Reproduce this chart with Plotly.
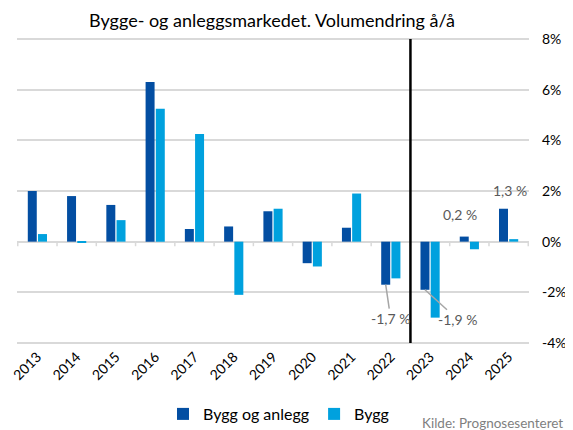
import plotly.graph_objects as go

years = ["2013", "2014", "2015", "2016", "2017", "2018", "2019",
         "2020", "2021", "2022", "2023", "2024", "2025"]
bygg_og_anlegg = [2.0, 1.8, 1.45, 6.3, 0.5, 0.6, 1.2, -0.85, 0.55, -1.7, -1.9, 0.2, 1.3]
bygg = [0.3, -0.05, 0.85, 5.25, 4.25, -2.1, 1.3, -0.98, 1.9, -1.45, -3.0, -0.3, 0.1]
y_ticks = [-4, -2, 0, 2, 4, 6, 8]
y_tick_labels = ["-4%", "-2%", "0%", "2%", "4%", "6%", "8%"]

DARK = "#034ea2"
LIGHT = "#00a1de"
FONT = "Lato"

# page offset of the figure (default body margin)
OFF = 8
PT, PB = 37, 345          # plot top / bottom in page px
PL, PR = 17, 529          # plot left / right in page px


def px_y(py):
    return (PB - py) / (PB - PT)


def px_x(px):
    return (px - PL) / (PR - PL)


fig = go.Figure()
fig.add_trace(go.Bar(x=years, y=bygg_og_anlegg, name="Bygg og anlegg",
                     marker=dict(color=DARK, line=dict(width=0))))
fig.add_trace(go.Bar(x=years, y=bygg, name="Bygg",
                     marker=dict(color=LIGHT, line=dict(width=0))))

# category-boundary tick marks on the zero line
shapes = []
for i in range(len(years) + 1):
    shapes.append(dict(type="line", xref="x", yref="y", x0=i - 0.5, x1=i - 0.5,
                       y0=0, y1=-0.18, line=dict(color="#d9d9d9", width=1.5)))
# forecast divider
shapes.append(dict(type="line", xref="x", yref="y", x0=9.5, x1=9.5,
                   y0=-4, y1=8, line=dict(color="black", width=2.5)))

ann_font = dict(family=FONT, size=14, color="#595959")
annotations = [
    dict(x=11 - 0.13, y=bygg_og_anlegg[11], text="0,2 %", showarrow=False,
         yanchor="bottom", yshift=12, xshift=-4, font=ann_font),
    dict(x=12 - 0.13, y=bygg_og_anlegg[12], text="1,3 %", showarrow=False,
         yanchor="bottom", yshift=8, xshift=6, font=ann_font),
    dict(x=9 - 0.13, y=bygg_og_anlegg[9], text="-1,7 %", showarrow=True,
         arrowhead=0, arrowwidth=1.5, arrowcolor="#a6a6a6", ax=5, ay=34,
         font=ann_font),
    dict(x=10 - 0.13, y=bygg_og_anlegg[10], text="-1,9 %", showarrow=True,
         arrowhead=0, arrowwidth=1.5, arrowcolor="#a6a6a6", ax=33, ay=30,
         font=ann_font),
    dict(xref="paper", yref="paper", x=px_x(420), y=px_y(423),
         xanchor="left", yanchor="middle", text="Kilde: Prognosesenteret",
         showarrow=False, font=dict(family=FONT, size=13.5, color="#7f7f7f")),
]

W, H = 573 - OFF, 430 - OFF
fig.update_layout(
    width=W, height=H,
    margin=dict(l=PL - OFF, r=573 - PR, t=PT - OFF, b=H - (PB - OFF), autoexpand=False),
    paper_bgcolor="white", plot_bgcolor="white",
    title=dict(text="Bygge- og anleggsmarkedet. Volumendring å/å",
               x=(272 - OFF) / W, xanchor="center", y=1 - (21 - OFF) / H,
               yanchor="middle",
               font=dict(family=FONT, size=18, color="black")),
    barmode="group", bargap=0.48, bargroupgap=0.12,
    showlegend=True,
    legend=dict(orientation="h", x=px_x(163), xanchor="left",
                y=px_y(414), yanchor="middle",
                font=dict(family=FONT, size=16, color="black"),
                bgcolor="rgba(0,0,0,0)"),
    xaxis=dict(type="category", tickangle=-45, showgrid=False, zeroline=False,
               showline=False, ticks="", automargin=False,
               tickfont=dict(family=FONT, size=14, color="black")),
    yaxis=dict(side="right", range=[-4.08, 8.08], tickvals=y_ticks,
               ticktext=y_tick_labels, automargin=False,
               showgrid=True, gridcolor="#d9d9d9", gridwidth=1.5,
               zeroline=True, zerolinecolor="#d9d9d9", zerolinewidth=1.5,
               showline=False, ticks="", ticklabelstandoff=12,
               tickfont=dict(family=FONT, size=14, color="black")),
    shapes=shapes,
    annotations=annotations,
    font=dict(family=FONT),
)

fig.write_html("out.html")
